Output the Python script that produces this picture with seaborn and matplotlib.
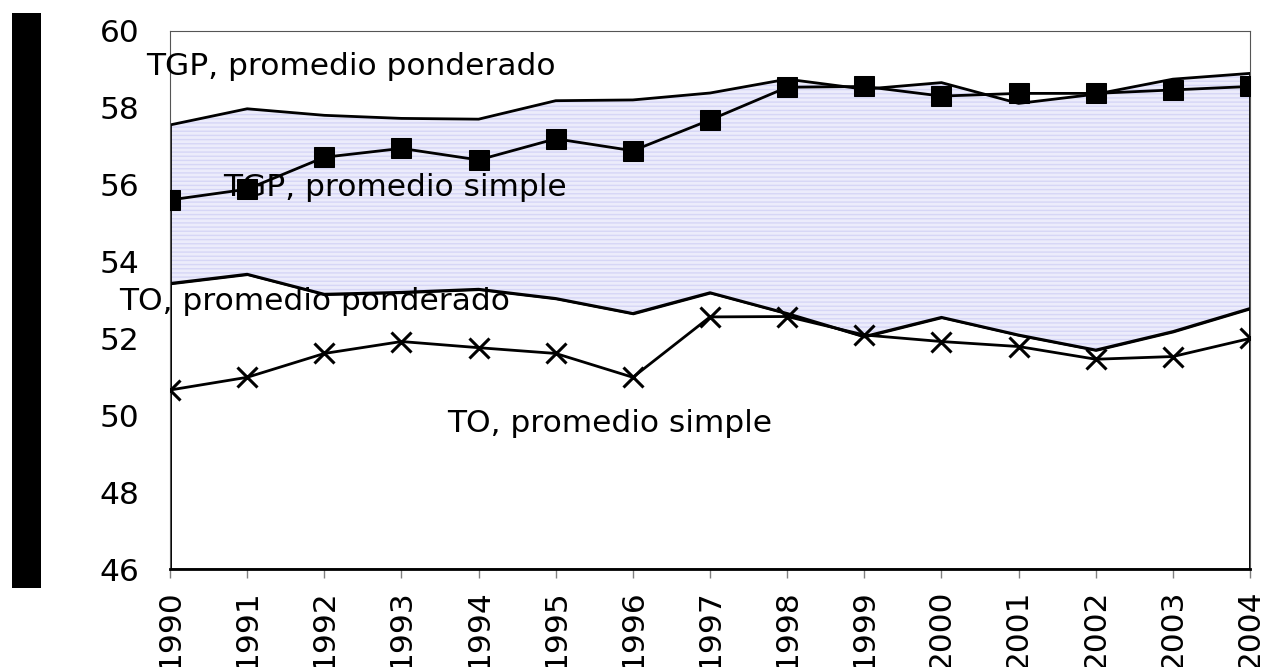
import numpy as np
import pandas as pd
import seaborn as sns
import matplotlib.pyplot as plt
from matplotlib.patches import Rectangle

years = list(range(1990, 2005))
tgp_ponderado = [57.55, 57.97, 57.8, 57.72, 57.7, 58.18, 58.2, 58.38, 58.74, 58.48, 58.65, 58.11, 58.35, 58.74, 58.89]
tgp_simple = [55.6, 55.88, 56.71, 56.94, 56.64, 57.19, 56.88, 57.68, 58.53, 58.55, 58.3, 58.37, 58.37, 58.46, 58.55]
to_ponderado = [53.43, 53.67, 53.15, 53.2, 53.28, 53.04, 52.65, 53.19, 52.65, 52.05, 52.55, 52.09, 51.7, 52.18, 52.78]
to_simple = [50.66, 50.99, 51.61, 51.92, 51.76, 51.61, 50.99, 52.56, 52.57, 52.09, 51.92, 51.79, 51.46, 51.53, 52.0]
yticks = [46, 48, 50, 52, 54, 56, 58, 60]

df = pd.DataFrame({'Año': years, 'tgp_p': tgp_ponderado, 'tgp_s': tgp_simple,
                   'to_p': to_ponderado, 'to_s': to_simple})

sns.set_theme(style="white")
plt.rcParams['font.family'] = ['DejaVu Sans']
plt.rcParams['text.color'] = 'black'
plt.rcParams['xtick.labelcolor'] = 'black'
plt.rcParams['ytick.labelcolor'] = 'black'
fs = 22.5

fig = plt.figure(figsize=(12.66, 6.67), dpi=100)
ax = fig.add_axes([0.1343, 0.1465, 0.8531, 0.8075])

# area entre promedios ponderados
ax.fill_between(df['Año'], 46, df['to_p'], facecolor='white', edgecolor='black', linewidth=1.9, zorder=1)
ax.fill_between(df['Año'], df['to_p'], df['tgp_p'], facecolor='#ececfb', edgecolor='#d6d6f6',
                hatch='----', linewidth=0, zorder=1)
sns.lineplot(data=df, x='Año', y='tgp_p', color='black', linewidth=2, ax=ax, zorder=2)
sns.lineplot(data=df, x='Año', y='to_p', color='black', linewidth=2, ax=ax, zorder=2)
ax.vlines([years[0], years[-1]], 46, [tgp_ponderado[0], tgp_ponderado[-1]], color='black', linewidth=2, zorder=2)

sns.lineplot(data=df, x='Año', y='tgp_s', color='black', linewidth=2, marker='s', markersize=14.5,
             markeredgecolor='black', markerfacecolor='black', ax=ax, zorder=3)
sns.lineplot(data=df, x='Año', y='to_s', color='black', linewidth=2, marker='x', markersize=15,
             markeredgewidth=2.2, markeredgecolor='black', ax=ax, zorder=3)

ax.set_xlim(1990, 2004)
ax.set_ylim(46, 60)
ax.set_xticks(years)
ax.set_xticklabels([str(y) for y in years], rotation=90, fontsize=fs)
ax.set_yticks(yticks)
ax.set_yticklabels([str(v) for v in yticks], fontsize=fs)
ax.tick_params(axis='y', length=0, pad=22)
ax.tick_params(axis='x', length=6.5, width=1, color='#808080', direction='out', pad=8, bottom=True)
ax.set_xlabel('')
ax.set_ylabel('')

for s in ['top', 'left', 'right']:
    ax.spines[s].set_color('#555555')
    ax.spines[s].set_linewidth(0.8)
ax.spines['bottom'].set_color('black')
ax.spines['bottom'].set_linewidth(2)

ax.text(1992.35, 59.06, 'TGP, promedio ponderado', fontsize=fs, ha='center', va='center', zorder=4)
ax.text(1992.92, 55.92, 'TGP, promedio simple', fontsize=fs, ha='center', va='center', zorder=4)
ax.text(1991.87, 52.95, 'TO, promedio ponderado', fontsize=fs, ha='center', va='center', zorder=4, clip_on=False)
ax.text(1995.7, 49.8, 'TO, promedio simple', fontsize=fs, ha='center', va='center', zorder=4)

# barra negra a la izquierda
fig.patches.append(Rectangle((0.0095, 0.1184), 0.0229, 0.8621, transform=fig.transFigure,
                             facecolor='black', edgecolor='none'))

plt.savefig('out.png', dpi=100)
